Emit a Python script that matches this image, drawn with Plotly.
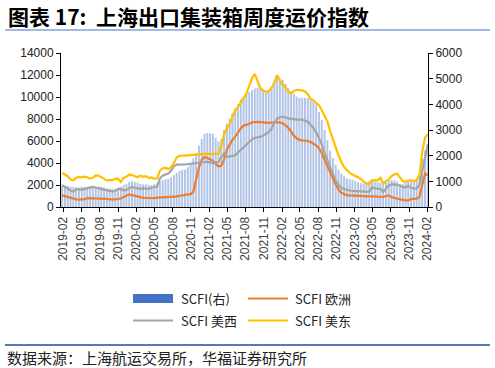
import pandas as pd
import plotly.graph_objects as go

# ---------------- data (biweekly, 2019-01-25 .. 2024-02-02) ----------------
dates = pd.date_range("2019-01-25", periods=132, freq="14D")

scfi = [880, 850, 820, 790, 780, 770, 760, 790, 780, 790,
        800, 820, 810, 800, 790, 770, 730, 720, 710, 710,
        750, 790, 850, 900, 980, 1000, 980, 950, 900, 880,
        880, 860, 850, 880, 920, 1000, 1050, 1080, 1100, 1150,
        1250, 1330, 1400, 1450, 1450, 1550, 1700, 1900, 2100, 2400,
        2650, 2850, 2880, 2870, 2850, 2700, 2550, 2650, 3000, 3250,
        3450, 3650, 3850, 4000, 4200, 4300, 4400, 4480, 4550, 4620,
        4650, 4600, 4550, 4500, 4550, 4700, 4900, 5050, 5000, 4950,
        4800, 4650, 4500, 4400, 4300, 4250, 4250, 4250, 4250, 4200,
        4100, 4000, 3700, 3400, 3000, 2600, 2200, 1900, 1650, 1450,
        1300, 1200, 1120, 1080, 1050, 1000, 960, 930, 920, 960,
        1000, 1000, 990, 970, 950, 960, 1000, 1030, 1050, 1040,
        1000, 900, 890, 930, 980, 990, 1000, 1050, 1250, 1900,
        2200, 2200]

europe = [1060, 980, 900, 820, 750, 690, 670, 680, 720, 810,
          800, 790, 800, 820, 810, 760, 730, 700, 670, 690,
          730, 780, 910, 1050, 1150, 1080, 1000, 930, 880, 830,
          820, 800, 790, 810, 850, 870, 910, 900, 910, 920,
          920, 980, 1000, 1050, 1100, 1150, 1150, 1400, 2600, 3600,
          4300, 4550, 4450, 4300, 4200, 3900, 3700, 3750, 4300, 5200,
          5700, 6100, 6400, 6800, 7150, 7400, 7450, 7550, 7700, 7730,
          7730, 7720, 7700, 7650, 7640, 7680, 7700, 7730, 7700, 7600,
          7450, 7200, 6800, 6500, 6250, 6100, 6060, 6060, 6000, 5900,
          5750, 5600, 5350, 4900, 4300, 3700, 3100, 2500, 2050, 1600,
          1300, 1180, 1080, 1060, 1040, 1010, 1000, 990, 990, 980,
          970, 960, 960, 950, 920, 910, 1000, 1050, 900, 820,
          750, 680, 640, 610, 600, 720, 760, 760, 900, 2000,
          3050, 2880]

uswest = [1970, 1800, 1650, 1500, 1380, 1600, 1600, 1560, 1650, 1700,
          1780, 1820, 1750, 1680, 1650, 1560, 1500, 1470, 1420, 1450,
          1650, 1620, 1520, 1560, 1700, 1820, 1750, 1680, 1650, 1700,
          1670, 1650, 1750, 1800, 1850, 2600, 2850, 2950, 3050, 3300,
          3700, 3850, 3880, 3880, 3880, 3900, 3940, 3950, 3980, 4000,
          4050, 4090, 4100, 4050, 4000, 4050, 4090, 4500, 4880, 4600,
          4550, 4650, 4700, 4950, 5200, 5450, 5700, 5900, 6150, 6300,
          6350, 6380, 6500, 6650, 6800, 7100, 7700, 8000, 8180, 8180,
          8150, 8050, 8000, 7950, 7940, 7940, 7940, 7850, 7750, 7450,
          7200, 6800, 6300, 5700, 4900, 4300, 3700, 3100, 2400, 2000,
          1750, 1620, 1530, 1500, 1460, 1450, 1430, 1380, 1360, 1360,
          1380, 1800, 1680, 1670, 1650, 1380, 1700, 1950, 2050, 2060,
          2000, 1950, 1800, 1760, 1950, 1750, 1680, 1700, 2000, 3200,
          4700, 5700]

useast = [3090, 2950, 2800, 2500, 2420, 2650, 2730, 2700, 2760, 2700,
          2575, 2650, 2880, 2850, 2700, 2600, 2420, 2450, 2450, 2550,
          2575, 2270, 2650, 2750, 2950, 2900, 2800, 2700, 2850, 2750,
          2800, 2650, 2700, 2550, 2600, 3300, 3500, 3575, 3450, 3600,
          4000, 4500, 4650, 4650, 4700, 4700, 4720, 4750, 4780, 4800,
          4820, 4850, 4850, 4820, 4850, 4850, 4850, 5500, 6600, 7200,
          7500, 8200, 8800, 9100, 9500, 10000, 10300, 11000, 11700, 12100,
          11500, 10800, 10600, 10450, 10550, 10800, 11300, 12000, 11500, 11100,
          10900, 10500, 10300, 10550, 10650, 10650, 10600, 10500, 10250, 9850,
          9700, 9450, 9250, 8800, 8300, 7800, 6900, 6100, 5400, 4700,
          4100, 3650, 3350, 3100, 2950, 2850, 2700, 2550, 2300, 2150,
          2060, 2450, 2420, 2420, 2650, 2150, 2350, 2500, 2800, 2970,
          3030, 2700, 2350, 2270, 2400, 2420, 2360, 2450, 2900, 5000,
          6300, 6650]

names = ["SCFI(右)", "SCFI 欧洲", "SCFI 美西", "SCFI 美东"]
title_text = "图表 17:  上海出口集装箱周度运价指数"
source_text = "数据来源：上海航运交易所，华福证券研究所"

# ---------------- layout geometry ----------------
W, H = 495, 368
ML, MR, MT, MB = 61, 67, 53, 161
PW, PH = W - ML - MR, H - MT - MB


def fx(p):
    return (p - ML) / PW


def fy(p):
    return (H - MB - p) / PH


C_BAR = "#4472C4"
C_EU = "#ED7D31"
C_WEST = "#A5A5A5"
C_EAST = "#FFC000"

fig = go.Figure()
fig.add_trace(go.Bar(x=dates, y=scfi, name=names[0], yaxis="y",
                     marker=dict(color="rgba(68,114,196,0.42)", line=dict(width=0)),
                     showlegend=False))
for vals, nm, col in [(europe, names[1], C_EU), (uswest, names[2], C_WEST),
                      (useast, names[3], C_EAST)]:
    fig.add_trace(go.Scatter(x=dates, y=vals, name=nm, yaxis="y2", mode="lines",
                             line=dict(color=col, width=2.2), showlegend=False))

tickfont = dict(family="Liberation Sans, Arial", size=12, color="#222222")

fig.update_layout(
    width=W, height=H,
    margin=dict(l=ML, r=MR, t=MT, b=MB, autoexpand=False),
    paper_bgcolor="white", plot_bgcolor="white",
    bargap=0.3,
    xaxis=dict(type="date", range=["2019-01-19", "2024-02-03"],
               tick0="2019-02-01", dtick="M3", tickformat="%Y-%m",
               tickangle=-90, ticks="outside", ticklen=4, tickcolor="black",
               showline=True, linecolor="black", linewidth=1,
               showgrid=False, zeroline=False,
               tickfont=dict(family="Liberation Sans, Arial", size=12, color="#404040")),
    yaxis=dict(side="right", range=[0, 6000], dtick=1000, tickformat="d",
               ticks="outside", ticklen=4, tickcolor="black",
               showline=True, linecolor="black", linewidth=1,
               showgrid=False, zeroline=False, tickfont=tickfont),
    yaxis2=dict(side="left", overlaying="y", range=[0, 14000], dtick=2000, tickformat="d",
                ticks="outside", ticklen=4, tickcolor="black",
                showline=True, linecolor="black", linewidth=1,
                showgrid=False, zeroline=False, tickfont=tickfont),
    showlegend=False,
)

shapes = [
    dict(type="line", xref="paper", yref="paper", x0=fx(5), x1=fx(490),
         y0=fy(30), y1=fy(30), line=dict(color="#4472C4", width=1)),
    dict(type="line", xref="paper", yref="paper", x0=fx(5), x1=fx(490),
         y0=fy(345), y1=fy(345), line=dict(color="#1F4E99", width=1.5)),
    dict(type="rect", xref="paper", yref="paper", x0=fx(133), x1=fx(173),
         y0=fy(303), y1=fy(294), fillcolor=C_BAR, line=dict(width=0)),
    dict(type="line", xref="paper", yref="paper", x0=fx(248), x1=fx(288),
         y0=fy(298.5), y1=fy(298.5), line=dict(color=C_EU, width=2)),
    dict(type="line", xref="paper", yref="paper", x0=fx(133), x1=fx(173),
         y0=fy(320.5), y1=fy(320.5), line=dict(color=C_WEST, width=2)),
    dict(type="line", xref="paper", yref="paper", x0=fx(248), x1=fx(288),
         y0=fy(320.5), y1=fy(320.5), line=dict(color=C_EAST, width=2)),
]
fig.update_layout(shapes=shapes)

legfont = dict(family="Noto Sans CJK SC, Liberation Sans", size=13, color="#222222")
ann = [
    dict(text="<b>" + title_text + "</b>", x=fx(6), y=fy(16), xanchor="left",
         yanchor="middle", font=dict(family="Noto Sans CJK SC", size=21, color="black")),
    dict(text=source_text, x=fx(5), y=fy(357), xanchor="left", yanchor="middle",
         font=dict(family="Noto Sans CJK SC", size=15, color="#222222")),
    dict(text=names[0], x=fx(179), y=fy(298.5), xanchor="left", yanchor="middle", font=legfont),
    dict(text=names[1], x=fx(293), y=fy(298.5), xanchor="left", yanchor="middle", font=legfont),
    dict(text=names[2], x=fx(179), y=fy(320.5), xanchor="left", yanchor="middle", font=legfont),
    dict(text=names[3], x=fx(293), y=fy(320.5), xanchor="left", yanchor="middle", font=legfont),
]
for a in ann:
    a.update(xref="paper", yref="paper", showarrow=False)
fig.update_layout(annotations=ann)

fig.write_html("out.html", config={"displayModeBar": False},
               post_script="document.body.style.margin='0';document.body.style.overflow='hidden';")
